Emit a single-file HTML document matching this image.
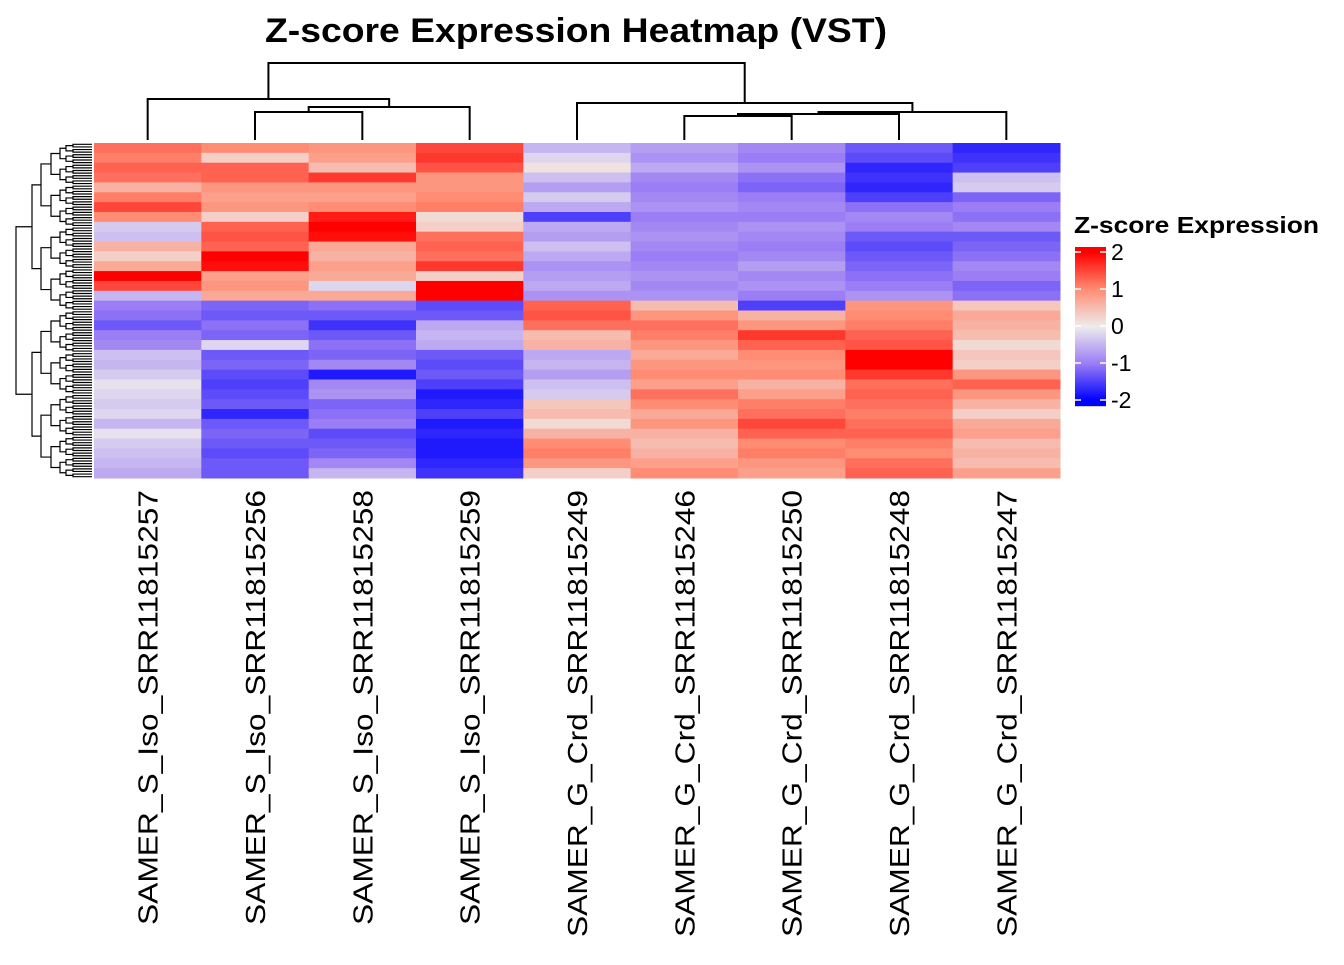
<!DOCTYPE html>
<html><head><meta charset="utf-8"><style>
body{margin:0;background:#fff;}
svg text{font-family:"Liberation Sans",Arial,sans-serif;}
</style></head><body>
<svg id="chart" width="1344" height="960" xmlns="http://www.w3.org/2000/svg">
<rect width="1344" height="960" fill="#fff"/>
<text x="265" y="42" font-size="34" font-weight="bold" textLength="622" lengthAdjust="spacingAndGlyphs">Z-score Expression Heatmap (VST)</text>
<g id="cells"></g>
<g id="coldend" stroke="#000" stroke-width="2" fill="none"></g>
<g id="rowdend" stroke="#000" stroke-width="1.2" fill="none"></g>
<g id="labels"></g>
<g id="legend"></g>
</svg>
<script>
const samples=["SAMER_S_Iso_SRR11815257","SAMER_S_Iso_SRR11815256","SAMER_S_Iso_SRR11815258","SAMER_S_Iso_SRR11815259","SAMER_G_Crd_SRR11815249","SAMER_G_Crd_SRR11815246","SAMER_G_Crd_SRR11815250","SAMER_G_Crd_SRR11815248","SAMER_G_Crd_SRR11815247"];
const col257=[1.2,1.1,1.3,1.2,0.6,1.1,1.5,1.0,-0.3,-0.4,0.6,0.3,0.7,2.0,1.5,-0.5,-1.0,-1.1,-1.3,-1.0,-0.9,-0.4,-0.5,-0.3,-0.1,-0.2,-0.3,-0.2,-0.5,-0.1,-0.3,-0.4,-0.5,-0.6];
const col256=[1.0,0.3,1.3,1.3,0.9,0.8,0.9,0.3,1.3,1.4,1.3,2.0,1.9,0.8,0.9,0.7,-1.2,-1.3,-1.1,-1.2,-0.2,-1.3,-1.2,-1.4,-1.5,-1.4,-1.3,-1.7,-1.3,-1.2,-1.3,-1.4,-1.3,-1.3];
const col258=[0.9,0.8,0.5,1.6,0.9,0.8,1.0,1.8,2.0,1.9,0.7,0.6,0.8,0.7,-0.2,0.7,-1.1,-1.3,-1.6,-1.3,-1.1,-1.2,-0.9,-1.8,-0.9,-0.8,-1.2,-1.1,-1.0,-1.4,-1.3,-1.2,-0.9,-0.5];
const col259=[1.5,1.6,1.4,0.9,0.9,1.0,1.1,0.2,0.3,1.2,1.3,1.2,1.6,0.3,2.1,2.1,-1.4,-1.3,-0.6,-0.5,-0.6,-1.3,-1.4,-1.3,-1.5,-1.8,-1.7,-1.5,-1.8,-1.7,-1.8,-1.8,-1.7,-1.6];
const col249=[-0.5,-0.2,0.1,-0.4,-0.7,-0.3,-0.6,-1.5,-0.6,-0.7,-0.4,-0.6,-0.8,-0.7,-0.6,-0.8,1.3,1.4,1.2,0.5,0.6,-0.6,-0.5,-0.7,-0.4,-0.3,0.4,0.5,0.2,0.6,1.0,1.1,0.9,0.3];
const col246=[-0.7,-0.8,-0.6,-0.9,-1.0,-0.9,-0.8,-1.0,-0.9,-0.8,-0.9,-1.0,-0.9,-0.8,-0.9,-0.8,0.5,0.9,1.2,1.1,0.9,0.7,0.9,1.0,0.8,1.2,1.0,0.7,0.9,0.6,0.5,0.6,0.8,1.0];
const col250=[-0.9,-1.0,-0.8,-1.1,-1.2,-1.0,-0.9,-1.0,-0.8,-0.9,-1.0,-0.9,-0.7,-0.9,-0.8,-1.0,-1.5,0.6,0.9,1.6,1.3,1.0,0.9,1.0,0.6,0.8,1.1,1.2,1.5,1.3,1.0,1.1,0.9,0.8];
const col248=[-1.3,-1.4,-1.7,-1.6,-1.7,-1.5,-1.1,-0.9,-1.0,-1.3,-1.4,-1.3,-1.2,-1.1,-1.0,-0.8,0.9,1.0,1.1,1.3,1.4,2.0,2.0,1.6,1.2,1.3,1.2,1.1,1.2,1.3,1.1,1.0,1.2,1.3];
const col247=[-1.7,-1.6,-1.5,-0.4,-0.3,-1.2,-1.0,-1.1,-0.9,-1.3,-1.2,-1.1,-0.9,-1.0,-1.2,-1.1,0.4,0.7,0.6,0.5,0.2,0.4,0.3,0.9,1.3,0.9,0.6,0.3,0.7,0.8,0.5,0.6,0.5,0.8];
const columns=[col257,col256,col258,col259,col249,col246,col250,col248,col247];
const legendTicks=[2,1,0,-1,-2];

const NS="http://www.w3.org/2000/svg";
const X0=94,X1=1060,Y0=143,Y1=478;
const nR=col257.length, cw=(X1-X0)/samples.length, rh=(Y1-Y0)/nR;
const xPos=i=>X0+i*cw, yPos=r=>Y0+r*rh;
const stops=[[-2,[0,0,255]],[-1,[155,125,245]],[0,[238,236,236]],[1,[255,140,115]],[2,[255,0,0]]];
function color(v){v=Math.max(-2,Math.min(2,v));for(let k=0;k<4;k++){const a=stops[k],b=stops[k+1];if(v<=b[0]){const t=(v-a[0])/(b[0]-a[0]);const c=a[1].map((x,j)=>Math.round(x+(b[1][j]-x)*t));return `rgb(${c})`;}}return "red";}
function mk(tag,attrs,parent){const e=document.createElementNS(NS,tag);for(const k in attrs)e.setAttribute(k,attrs[k]);parent.appendChild(e);return e;}
const cells=document.getElementById('cells');
columns.forEach((col,i)=>{col.forEach((v,r)=>{
 const e=mk('rect',{x:xPos(i),y:yPos(r),width:cw+0.5,height:rh+0.5,fill:color(v)},cells);
 
 
});});
// column labels
const lab=document.getElementById('labels');
samples.forEach((s,i)=>{const cx=xPos(i)+cw/2;
 const len=s.indexOf('Iso')>=0?435:447;
 const t=mk('text',{x:0,y:0,transform:`translate(${cx+10},490) rotate(-90)`,'text-anchor':'end','font-size':'28',textLength:len,lengthAdjust:'spacingAndGlyphs'},lab);
 t.textContent=s;
 
 
});
// column dendrogram
const cd=document.getElementById('coldend');
const cx=i=>xPos(i)+cw/2;
function U(x1,x2,y,yl,yr){mk('path',{d:`M${x1},${yl}V${y}H${x2}V${yr}`},cd);}
const leafY=140;
U(cx(1),cx(2),112,leafY,leafY);
const m12=(cx(1)+cx(2))/2;
U(m12,cx(3),107,112,leafY);
const m123=(m12+cx(3))/2;
U(cx(0),m123,99,leafY,107);
const mL=(cx(0)+m123)/2;
U(cx(5),cx(6),116,leafY,leafY);
const m56=(cx(5)+cx(6))/2;
U(m56,cx(7),114,116,leafY);
const m567=(m56+cx(7))/2;
U(m567,cx(8),112,114,leafY);
const m5678=(m567+cx(8))/2;
U(cx(4),m5678,103,leafY,112);
const mR=(cx(4)+m5678)/2;
U(mL,mR,63,99,103);
// row dendrogram (decorative)
const rd=document.getElementById('rowdend');
const nLeaf=128, lh=(Y1-Y0)/nLeaf;
const depthX=[12,30,40,48,56,64,72,80,86,92];
function tree(a,b,d){
 if(b-a===1)return [Y0+(a+0.5)*lh,92];
 const m=Math.floor((a+b)/2);
 const L=tree(a,m,d+1),R=tree(m,b,d+1);
 const x=depthX[Math.min(d,8)]+((a*7+b*3)%5);
 mk('path',{d:`M${L[1]},${L[0]}H${x}V${R[0]}H${R[1]}`},rd);
 return [(L[0]+R[0])/2,x];
}
tree(0,nLeaf,0);
// legend
const lg=document.getElementById('legend');
const t0=mk('text',{x:1074,y:233,'font-size':'23','font-weight':'bold',textLength:245,lengthAdjust:'spacingAndGlyphs'},lg);t0.textContent="Z-score Expression";


const LB0=247,LB1=406,LX=1075,LW=31;
const gy=v=>LB0+5+(2-v)*37;
for(let y=LB0;y<LB1;y++){const v=2-(y-LB0-5)/37;mk('rect',{x:LX,y:y,width:LW,height:1.2,fill:color(v)},lg);}
legendTicks.forEach(v=>{const y=gy(v);
 mk('line',{x1:LX,x2:LX+6,y1:y,y2:y,stroke:'#fff','stroke-width':1.5},lg);
 mk('line',{x1:LX+LW-6,x2:LX+LW,y1:y,y2:y,stroke:'#fff','stroke-width':1.5},lg);
 const t=mk('text',{x:LX+LW+5,y:y+8,'font-size':'23'},lg);t.textContent=String(v);
 
 
});
</script>
</body></html>
